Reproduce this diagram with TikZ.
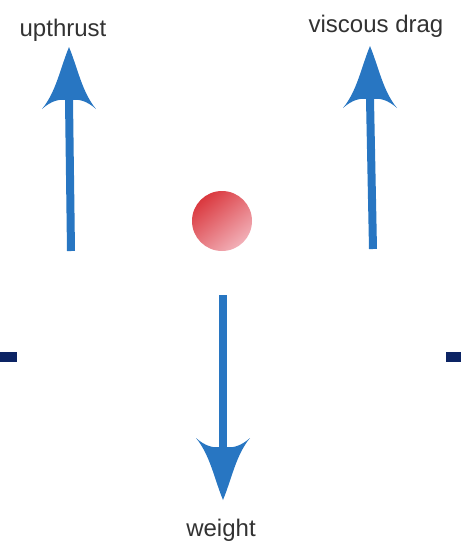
\documentclass[tikz,border=0pt]{standalone}
\usepackage{fontspec}
\setmainfont{Liberation Sans}
\usetikzlibrary{calc}
\definecolor{arrowblue}{RGB}{40,118,194}
\definecolor{barnavy}{RGB}{12,36,100}
\definecolor{ballred}{RGB}{218,56,62}
\definecolor{ballpink}{RGB}{242,176,184}
\definecolor{labelgray}{RGB}{50,50,50}
\tikzset{
  shaft/.style={draw=arrowblue, line width=8pt},
  forcelabel/.style={text=labelgray, font=\fontsize{24}{28}\selectfont, anchor=base, inner sep=0pt},
  bar/.style={fill=barnavy},
  head/.pic={
    \fill[arrowblue] (0,0) .. controls (-9,22) and (-13,45) .. (-27,62)
      .. controls (-18,54) and (-10,52) .. (-4,53) -- (4,53)
      .. controls (10,52) and (18,54) .. (27,62)
      .. controls (13,45) and (9,22) .. (0,0) -- cycle;
  }
}
\begin{document}
\begin{tikzpicture}[x=1pt,y=-1pt]
\useasboundingbox (0,0) rectangle (461,544);
% upthrust
\coordinate (uptail) at (71,251);
\coordinate (uptip) at (69,47);
\coordinate (upbase) at (69,100);
\draw[shaft] (uptail) -- (upbase);
\pic at (uptip) {head};
\node[forcelabel] (uplabel) at (63,36) {upthrust};
% viscous drag
\coordinate (vdtail) at (373,249);
\coordinate (vdtip) at (370,46);
\coordinate (vdbase) at (370,99);
\draw[shaft] (vdtail) -- (vdbase);
\pic at (vdtip) {head};
\node[forcelabel] (vdlabel) at (376,32) {viscous drag};
% ball
\shade[top color=ballred, middle color=ballred, bottom color=ballpink, shading angle=40]
  (222,221) circle[radius=30];
\node[inner sep=0pt, minimum size=60pt, circle] (ball) at (222,221) {};
% weight
\coordinate (wtail) at (223,295);
\coordinate (wtip) at (223,500);
\coordinate (wbase) at (223,447);
\draw[shaft] (wtail) -- (wbase);
\pic[rotate=180] at (wtip) {head};
\node[forcelabel] (wlabel) at (221,536) {weight};
% side bars
\fill[bar] (0,352) rectangle (17,362);
\fill[bar] (446,352) rectangle (461,362);
\end{tikzpicture}
\end{document}
